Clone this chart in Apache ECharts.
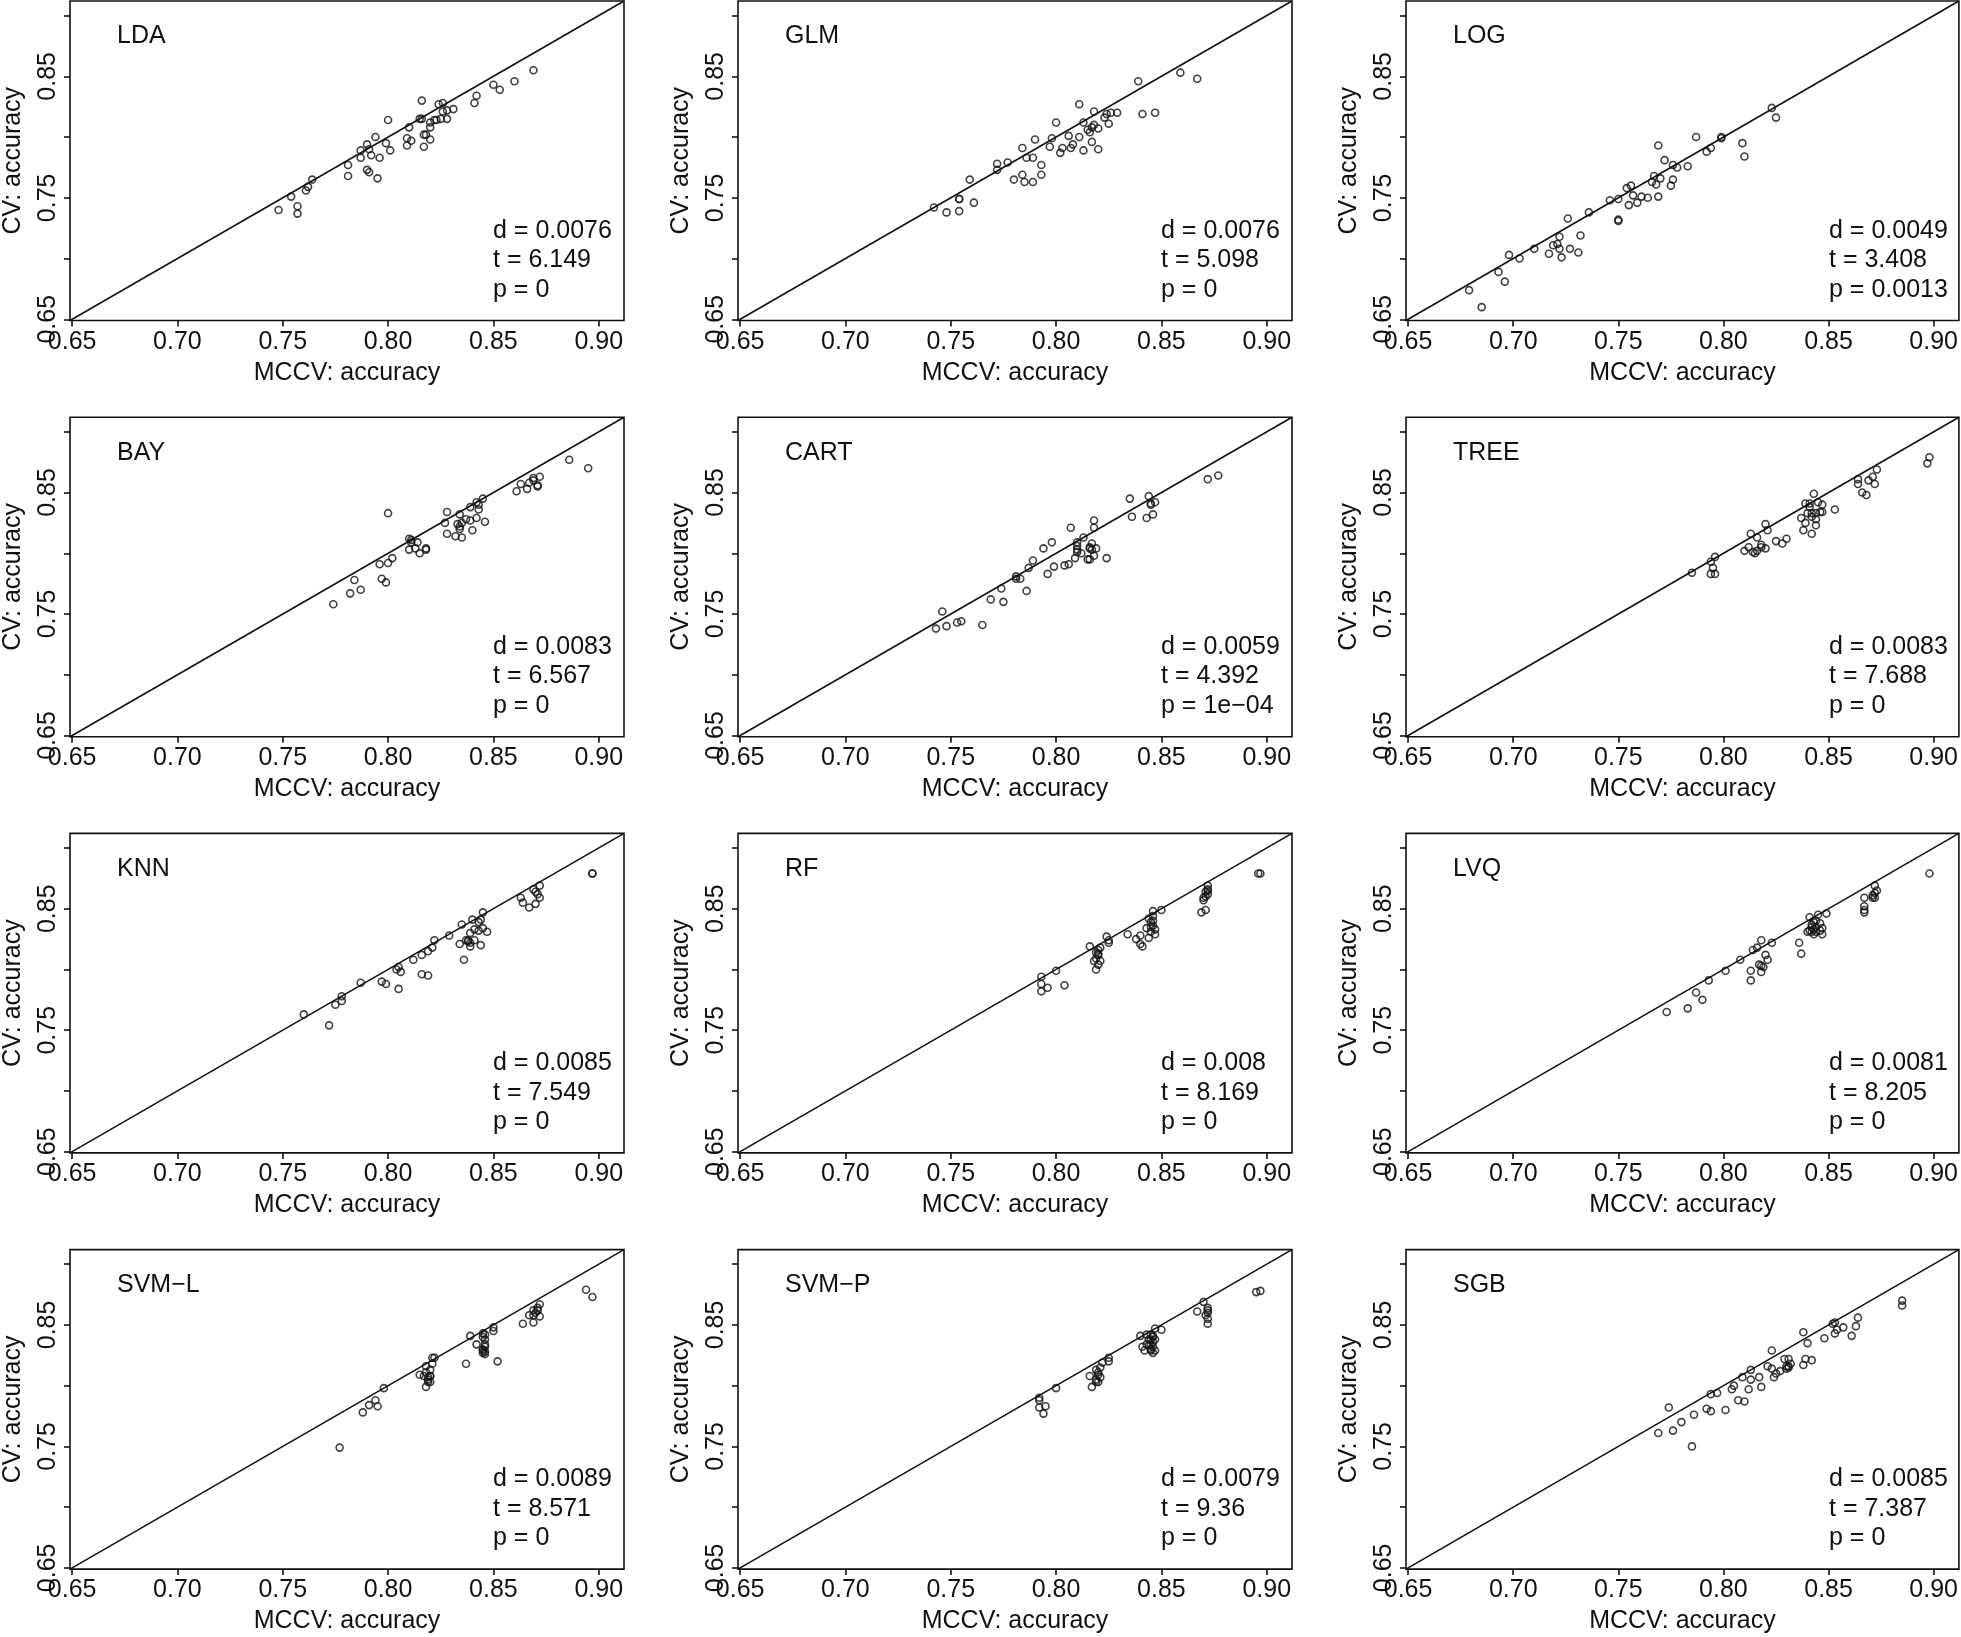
<!DOCTYPE html>
<html><head><meta charset="utf-8">
<script src="https://cdn.jsdelivr.net/npm/echarts@6/dist/echarts.min.js"></script>
<style>html,body{margin:0;padding:0;background:#fff}#c{width:1961px;height:1637px}</style>
</head><body><div id="c"></div>
<script>
const methods = ['LDA','GLM','LOG','BAY','CART','TREE','KNN','RF','LVQ','SVM\u2212L','SVM\u2212P','SGB'];
const dStat = ['0.0076','0.0076','0.0049','0.0083','0.0059','0.0083','0.0085','0.008','0.0081','0.0089','0.0079','0.0085'];
const tStat = ['6.149','5.098','3.408','6.567','4.392','7.688','7.549','8.169','8.205','8.571','9.36','7.387'];
const pStat = ['0','0','0.0013','0','1e\u221204','0','0','0','0','0','0','0'];
const xTickValues = [0.65,0.70,0.75,0.80,0.85,0.90];
const yTickLabelValues = [0.65,0.75,0.85];
const axisRange = [0.649, 0.912];

const LDA_mccv = [0.748,0.754,0.757,0.757,0.761,0.762,0.764,0.781,0.781,0.787,0.787,0.790,0.791,0.792,0.790,0.791,0.794,0.796,0.795,0.800,0.799,0.801,0.809,0.809,0.810,0.811,0.816,0.815,0.816,0.817,0.817,0.818,0.820,0.820,0.820,0.823,0.824,0.826,0.825,0.826,0.828,0.828,0.831,0.841,0.842,0.850,0.853,0.860,0.869,0.822];
const LDA_cv   = [0.740,0.751,0.743,0.737,0.756,0.759,0.765,0.777,0.768,0.789,0.783,0.794,0.790,0.785,0.773,0.771,0.800,0.783,0.766,0.814,0.795,0.789,0.799,0.793,0.808,0.797,0.830,0.815,0.815,0.802,0.792,0.802,0.798,0.812,0.808,0.814,0.827,0.828,0.815,0.821,0.815,0.822,0.823,0.828,0.834,0.843,0.839,0.846,0.855,0.814];
const GLM_mccv = [0.742,0.748,0.754,0.754,0.754,0.761,0.759,0.772,0.772,0.777,0.780,0.784,0.785,0.789,0.784,0.786,0.789,0.790,0.793,0.793,0.797,0.798,0.800,0.802,0.803,0.806,0.807,0.808,0.811,0.811,0.813,0.813,0.815,0.816,0.817,0.818,0.818,0.817,0.820,0.820,0.823,0.824,0.826,0.829,0.825,0.839,0.841,0.847,0.859,0.867];
const GLM_cv   = [0.742,0.738,0.739,0.749,0.749,0.746,0.765,0.778,0.773,0.779,0.765,0.769,0.763,0.763,0.791,0.783,0.783,0.798,0.777,0.769,0.792,0.799,0.812,0.787,0.791,0.801,0.791,0.794,0.800,0.827,0.812,0.789,0.806,0.804,0.796,0.821,0.810,0.808,0.807,0.790,0.816,0.819,0.820,0.820,0.811,0.846,0.819,0.820,0.853,0.848];
const LOG_mccv = [0.679,0.685,0.693,0.696,0.698,0.703,0.710,0.717,0.719,0.721,0.722,0.722,0.723,0.726,0.727,0.731,0.732,0.736,0.746,0.750,0.750,0.754,0.756,0.755,0.757,0.759,0.761,0.764,0.766,0.767,0.768,0.769,0.769,0.770,0.772,0.775,0.776,0.776,0.778,0.783,0.787,0.792,0.794,0.799,0.799,0.809,0.810,0.823,0.825,0.750];
const LOG_cv   = [0.674,0.660,0.689,0.681,0.703,0.700,0.708,0.704,0.711,0.712,0.718,0.708,0.701,0.733,0.708,0.705,0.719,0.738,0.748,0.731,0.749,0.758,0.760,0.744,0.752,0.746,0.751,0.750,0.763,0.768,0.761,0.793,0.751,0.766,0.781,0.760,0.777,0.765,0.775,0.776,0.800,0.788,0.791,0.799,0.800,0.795,0.784,0.824,0.816,0.732];
const BAY_mccv = [0.774,0.782,0.787,0.784,0.797,0.799,0.796,0.800,0.802,0.800,0.810,0.811,0.810,0.813,0.814,0.815,0.818,0.818,0.827,0.828,0.828,0.832,0.833,0.834,0.834,0.835,0.835,0.837,0.839,0.839,0.840,0.842,0.842,0.843,0.843,0.845,0.846,0.861,0.863,0.866,0.867,0.869,0.869,0.871,0.872,0.871,0.886,0.895,0.834,0.811];
const BAY_cv   = [0.758,0.767,0.770,0.778,0.779,0.776,0.791,0.792,0.796,0.833,0.812,0.809,0.803,0.804,0.809,0.800,0.804,0.803,0.825,0.816,0.834,0.814,0.824,0.822,0.832,0.813,0.825,0.828,0.838,0.827,0.819,0.829,0.842,0.836,0.840,0.845,0.826,0.851,0.857,0.853,0.858,0.862,0.860,0.856,0.863,0.855,0.877,0.870,0.820,0.811];
const CART_mccv = [0.743,0.746,0.748,0.753,0.755,0.765,0.769,0.775,0.774,0.781,0.781,0.783,0.786,0.787,0.789,0.794,0.796,0.798,0.799,0.804,0.806,0.807,0.809,0.810,0.810,0.810,0.812,0.813,0.815,0.816,0.816,0.817,0.817,0.818,0.818,0.818,0.819,0.824,0.835,0.836,0.843,0.844,0.845,0.846,0.847,0.845,0.872,0.877,0.810,0.816];
const CART_cv   = [0.738,0.752,0.740,0.743,0.744,0.741,0.762,0.760,0.771,0.781,0.779,0.779,0.769,0.788,0.794,0.804,0.783,0.809,0.789,0.790,0.791,0.821,0.796,0.809,0.803,0.801,0.800,0.813,0.795,0.795,0.804,0.803,0.808,0.827,0.821,0.798,0.804,0.796,0.845,0.830,0.829,0.847,0.841,0.832,0.842,0.840,0.861,0.864,0.806,0.805];
const TREE_mccv = [0.785,0.794,0.796,0.795,0.794,0.796,0.810,0.812,0.813,0.814,0.815,0.816,0.818,0.818,0.820,0.820,0.821,0.825,0.828,0.830,0.837,0.839,0.838,0.839,0.840,0.841,0.841,0.842,0.842,0.843,0.844,0.844,0.844,0.845,0.846,0.847,0.847,0.853,0.864,0.864,0.866,0.868,0.869,0.871,0.872,0.873,0.898,0.897,0.842,0.816];
const TREE_cv   = [0.784,0.793,0.797,0.788,0.783,0.783,0.802,0.805,0.816,0.801,0.800,0.813,0.807,0.805,0.804,0.824,0.819,0.810,0.808,0.812,0.829,0.841,0.819,0.825,0.833,0.841,0.838,0.816,0.830,0.849,0.833,0.828,0.823,0.842,0.834,0.840,0.834,0.836,0.861,0.857,0.850,0.848,0.860,0.863,0.857,0.869,0.879,0.874,0.833,0.802];
const KNN_mccv = [0.760,0.772,0.775,0.778,0.778,0.787,0.797,0.799,0.804,0.805,0.806,0.805,0.812,0.816,0.816,0.819,0.819,0.821,0.822,0.829,0.834,0.835,0.836,0.837,0.838,0.839,0.839,0.840,0.841,0.841,0.843,0.843,0.844,0.845,0.845,0.847,0.844,0.863,0.864,0.867,0.869,0.870,0.870,0.872,0.872,0.871,0.897,0.897,0.838,0.839];
const KNN_cv   = [0.763,0.754,0.771,0.778,0.774,0.789,0.790,0.788,0.800,0.802,0.798,0.784,0.808,0.812,0.796,0.795,0.815,0.818,0.824,0.828,0.821,0.837,0.808,0.824,0.823,0.830,0.819,0.841,0.833,0.824,0.832,0.839,0.820,0.847,0.834,0.831,0.841,0.859,0.855,0.851,0.866,0.864,0.854,0.859,0.869,0.862,0.879,0.879,0.824,0.822];
const RF_mccv = [0.793,0.793,0.793,0.796,0.800,0.804,0.816,0.818,0.819,0.819,0.820,0.820,0.821,0.821,0.824,0.825,0.825,0.834,0.838,0.840,0.840,0.841,0.843,0.844,0.844,0.845,0.845,0.846,0.846,0.846,0.847,0.847,0.850,0.869,0.871,0.870,0.871,0.871,0.872,0.872,0.872,0.896,0.897,0.819,0.820,0.846,0.845,0.870,0.872,0.820];
const RF_cv   = [0.782,0.794,0.788,0.785,0.799,0.787,0.819,0.807,0.814,0.800,0.804,0.813,0.807,0.818,0.827,0.824,0.822,0.829,0.825,0.828,0.821,0.819,0.834,0.842,0.826,0.831,0.839,0.848,0.844,0.836,0.829,0.833,0.849,0.847,0.849,0.857,0.860,0.864,0.869,0.865,0.862,0.879,0.879,0.809,0.812,0.840,0.835,0.859,0.866,0.816];
const LVQ_mccv = [0.773,0.783,0.787,0.790,0.793,0.801,0.808,0.813,0.813,0.814,0.816,0.818,0.817,0.818,0.819,0.820,0.821,0.823,0.836,0.837,0.840,0.841,0.842,0.843,0.843,0.844,0.844,0.845,0.846,0.847,0.847,0.849,0.841,0.842,0.867,0.867,0.867,0.867,0.871,0.872,0.872,0.872,0.898,0.843,0.846,0.842,0.873,0.871,0.844,0.818];
const LVQ_cv   = [0.765,0.768,0.781,0.775,0.791,0.799,0.808,0.799,0.791,0.816,0.818,0.824,0.804,0.798,0.802,0.812,0.808,0.822,0.822,0.813,0.831,0.843,0.837,0.829,0.833,0.835,0.840,0.845,0.838,0.829,0.834,0.846,0.832,0.831,0.859,0.852,0.849,0.847,0.859,0.859,0.863,0.869,0.879,0.839,0.832,0.835,0.865,0.861,0.831,0.803];
const SVML_mccv = [0.777,0.788,0.791,0.794,0.795,0.798,0.815,0.817,0.818,0.818,0.819,0.819,0.820,0.820,0.821,0.821,0.822,0.820,0.837,0.839,0.842,0.845,0.845,0.845,0.846,0.846,0.846,0.846,0.850,0.850,0.852,0.864,0.867,0.869,0.869,0.870,0.871,0.872,0.872,0.894,0.897,0.845,0.846,0.818,0.819,0.871,0.845,0.820,0.846,0.869];
const SVML_cv   = [0.749,0.778,0.784,0.788,0.783,0.798,0.809,0.808,0.816,0.799,0.803,0.807,0.813,0.808,0.818,0.823,0.823,0.803,0.818,0.841,0.834,0.843,0.829,0.827,0.832,0.838,0.842,0.826,0.845,0.848,0.820,0.851,0.858,0.852,0.862,0.860,0.864,0.867,0.857,0.879,0.873,0.830,0.834,0.811,0.805,0.862,0.840,0.808,0.828,0.858];
const SVMP_mccv = [0.792,0.792,0.794,0.795,0.792,0.800,0.816,0.817,0.819,0.820,0.820,0.821,0.821,0.822,0.825,0.825,0.819,0.840,0.841,0.842,0.843,0.844,0.845,0.845,0.845,0.846,0.846,0.847,0.846,0.847,0.850,0.867,0.870,0.871,0.872,0.872,0.872,0.872,0.895,0.897,0.844,0.846,0.845,0.847,0.872,0.820,0.843,0.845,0.846,0.819];
const SVMP_cv   = [0.790,0.782,0.777,0.783,0.788,0.798,0.808,0.799,0.813,0.809,0.803,0.807,0.815,0.819,0.820,0.823,0.805,0.841,0.832,0.829,0.842,0.838,0.842,0.834,0.830,0.827,0.832,0.838,0.841,0.847,0.846,0.861,0.869,0.858,0.864,0.855,0.860,0.851,0.877,0.878,0.833,0.836,0.829,0.829,0.862,0.811,0.834,0.838,0.840,0.803];
const SGB_mccv = [0.769,0.774,0.776,0.780,0.785,0.786,0.792,0.794,0.794,0.797,0.801,0.804,0.805,0.807,0.810,0.809,0.812,0.813,0.813,0.817,0.818,0.821,0.823,0.823,0.824,0.825,0.827,0.829,0.830,0.831,0.831,0.832,0.838,0.838,0.839,0.840,0.842,0.848,0.852,0.853,0.853,0.854,0.857,0.861,0.863,0.864,0.831,0.830,0.885,0.885];
const SGB_cv   = [0.761,0.782,0.763,0.770,0.750,0.776,0.781,0.793,0.779,0.794,0.780,0.797,0.800,0.788,0.787,0.807,0.797,0.805,0.813,0.807,0.799,0.816,0.829,0.814,0.807,0.810,0.812,0.822,0.814,0.815,0.822,0.818,0.844,0.817,0.822,0.835,0.821,0.839,0.851,0.852,0.843,0.846,0.848,0.841,0.849,0.856,0.816,0.816,0.870,0.866];

const mccvData = [LDA_mccv,GLM_mccv,LOG_mccv,BAY_mccv,CART_mccv,TREE_mccv,KNN_mccv,RF_mccv,LVQ_mccv,SVML_mccv,SVMP_mccv,SGB_mccv];
const cvData   = [LDA_cv,GLM_cv,LOG_cv,BAY_cv,CART_cv,TREE_cv,KNN_cv,RF_cv,LVQ_cv,SVML_cv,SVMP_cv,SGB_cv];

const FONT = 'Liberation Sans, Arial, Helvetica, sans-serif';
const INK = '#111111';
const FS = 25;

const grids = [], xAxes = [], yAxes = [], series = [], titles = [];
for (let i = 0; i < 12; i++) {
  const r = Math.floor(i / 3), c = i % 3;
  const gl = 70 + c * 668, gt = 1 + r * 416.2;
  grids.push({left: gl, top: gt, width: 554, height: 319.5, show: true,
    borderColor: INK, borderWidth: 1.6, backgroundColor: 'rgba(0,0,0,0)', containLabel: false});
  xAxes.push({gridIndex: i, type: 'value', min: axisRange[0], max: axisRange[1],
    name: 'MCCV: accuracy', nameLocation: 'middle', nameGap: 40,
    nameTextStyle: {fontSize: FS, color: INK, fontFamily: FONT},
    axisLine: {show: false},
    axisTick: {show: true, length: 6, customValues: xTickValues, lineStyle: {color: INK, width: 1.6}},
    axisLabel: {customValues: xTickValues, formatter: v => v.toFixed(2), fontSize: FS, margin: 9, color: INK, fontFamily: FONT},
    splitLine: {show: false}});
  yAxes.push({gridIndex: i, type: 'value', min: axisRange[0], max: axisRange[1],
    name: 'CV: accuracy', nameLocation: 'middle', nameGap: 44, nameRotate: 90,
    nameTextStyle: {fontSize: FS, color: INK, fontFamily: FONT},
    axisLine: {show: false},
    axisTick: {show: true, length: 6, customValues: xTickValues, lineStyle: {color: INK, width: 1.6}},
    axisLabel: {customValues: yTickLabelValues, rotate: 90, formatter: v => v.toFixed(2), fontSize: FS, margin: 9, color: INK, fontFamily: FONT},
    splitLine: {show: false}});
  series.push({type: 'line', xAxisIndex: i, yAxisIndex: i,
    data: [[axisRange[0], axisRange[0]], [axisRange[1], axisRange[1]]],
    showSymbol: false, silent: true, lineStyle: {color: INK, width: 1.6}, z: 2});
  series.push({type: 'scatter', xAxisIndex: i, yAxisIndex: i,
    data: mccvData[i].map((x, j) => [x, cvData[i][j]]),
    symbol: 'circle', symbolSize: 7, silent: true,
    itemStyle: {color: 'rgba(0,0,0,0)', borderColor: INK, borderWidth: 1.6}, z: 3});
  titles.push({text: methods[i], left: gl + 47, top: gt + 23, padding: 0,
    textStyle: {fontSize: FS, fontWeight: 'normal', color: INK, fontFamily: FONT}});
  titles.push({text: 'd = ' + dStat[i] + '\nt = ' + tStat[i] + '\np = ' + pStat[i],
    left: gl + 423, top: gt + 215, padding: 0,
    textStyle: {fontSize: FS, fontWeight: 'normal', color: INK, fontFamily: FONT, lineHeight: 29.5}});
}

const chart = echarts.init(document.getElementById('c'), null, {renderer: 'canvas'});
chart.setOption({
  animation: false,
  backgroundColor: '#ffffff',
  textStyle: {fontFamily: FONT},
  title: titles,
  grid: grids,
  xAxis: xAxes,
  yAxis: yAxes,
  series: series
});
</script>
</body></html>
